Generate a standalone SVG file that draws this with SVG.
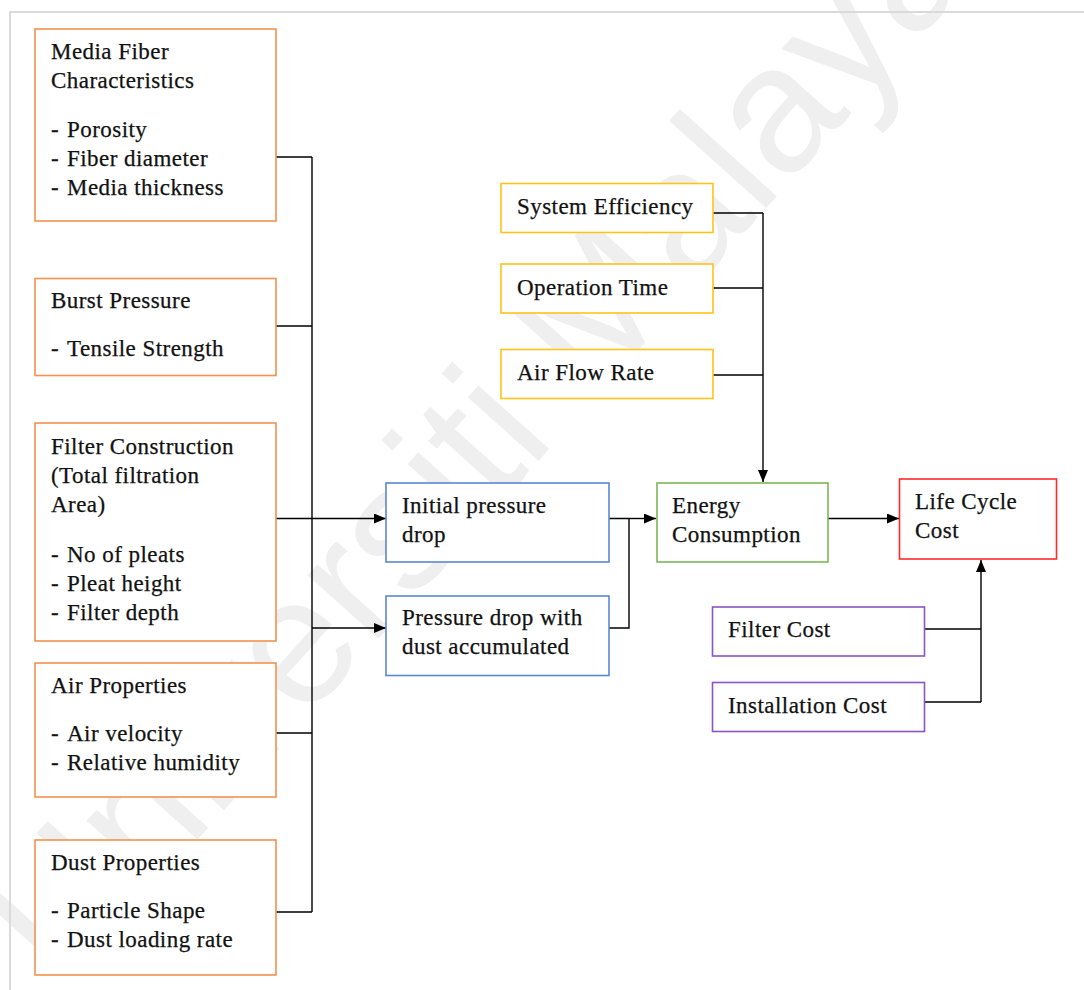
<svg xmlns="http://www.w3.org/2000/svg" width="1084" height="990" viewBox="0 0 1084 990">
<defs>
<style>
text.t{font-family:'Liberation Serif','Times New Roman',serif;font-size:23px;fill:#111;stroke:#111;stroke-width:0.25px;letter-spacing:0.45px}
.box{fill:#fff;stroke-width:1.6}
.o{stroke:#F4924E}
.y{stroke:#FFC21A}
.b{stroke:#5A86D4}
.g{stroke:#7DB755}
.r{stroke:#FF2A2A}
.p{stroke:#8A55C2}
.c{fill:none;stroke:#000;stroke-width:1.4}
text.wm{font-family:'Liberation Sans','DejaVu Sans',sans-serif;font-size:180px;fill:#efefef}
</style>
<marker id="ah" viewBox="0 0 12 10" markerWidth="12" markerHeight="10" refX="12" refY="5" orient="auto" markerUnits="userSpaceOnUse">
<path d="M0,0 L12,5 L0,10 z" fill="#000"/>
</marker>
</defs>
<rect width="1084" height="990" fill="#fff"/>
<text class="wm" transform="translate(62,990) rotate(-48)">Universiti Malaya</text>
<path d="M10,990 V12 H1084" fill="none" stroke="#dadada" stroke-width="2"/>

<g id="connectors">
<path class="c" d="M276,157 H312 M276,326 H312 M276,518.5 H312 M276,733 H312 M276,912 H312 M312,157 V912"/>
<path class="c" d="M312,518.5 H386" marker-end="url(#ah)"/>
<path class="c" d="M312,628 H386" marker-end="url(#ah)"/>
<path class="c" d="M609,518.5 H629 M609,628 H629 V518.5"/>
<path class="c" d="M629,518.5 H656" marker-end="url(#ah)"/>
<path class="c" d="M713,213 H763 M713,288 H763 M713,375 H763"/>
<path class="c" d="M763,213 V482" marker-end="url(#ah)"/>
<path class="c" d="M828,518.5 H899" marker-end="url(#ah)"/>
<path class="c" d="M924,629 H981 M924,702 H981"/>
<path class="c" d="M981,702 V560" marker-end="url(#ah)"/>
</g>

<g id="media-fiber">
<rect class="box o" x="35" y="29" width="241" height="192"/>
<text class="t"><tspan x="51" y="59">Media Fiber</tspan><tspan x="51" y="88">Characteristics</tspan></text>
<text class="t" y="137"><tspan x="51">-</tspan><tspan x="67">Porosity</tspan></text>
<text class="t" y="166"><tspan x="51">-</tspan><tspan x="67">Fiber diameter</tspan></text>
<text class="t" y="195"><tspan x="51">-</tspan><tspan x="67">Media thickness</tspan></text>
</g>

<g id="burst-pressure">
<rect class="box o" x="35" y="278.5" width="241" height="97"/>
<text class="t" x="51" y="308">Burst Pressure</text>
<text class="t" y="356"><tspan x="51">-</tspan><tspan x="67">Tensile Strength</tspan></text>
</g>

<g id="filter-construction">
<rect class="box o" x="35" y="423" width="241" height="218"/>
<text class="t"><tspan x="51" y="454">Filter Construction</tspan><tspan x="51" y="483">(Total filtration</tspan><tspan x="51" y="512">Area)</tspan></text>
<text class="t" y="562"><tspan x="51">-</tspan><tspan x="67">No of pleats</tspan></text>
<text class="t" y="591"><tspan x="51">-</tspan><tspan x="67">Pleat height</tspan></text>
<text class="t" y="620"><tspan x="51">-</tspan><tspan x="67">Filter depth</tspan></text>
</g>

<g id="air-properties">
<rect class="box o" x="35" y="663" width="241" height="134"/>
<text class="t" x="51" y="693">Air Properties</text>
<text class="t" y="741"><tspan x="51">-</tspan><tspan x="67">Air velocity</tspan></text>
<text class="t" y="770"><tspan x="51">-</tspan><tspan x="67">Relative humidity</tspan></text>
</g>

<g id="dust-properties">
<rect class="box o" x="35" y="840" width="241" height="135"/>
<text class="t" x="51" y="870">Dust Properties</text>
<text class="t" y="918"><tspan x="51">-</tspan><tspan x="67">Particle Shape</tspan></text>
<text class="t" y="947"><tspan x="51">-</tspan><tspan x="67">Dust loading rate</tspan></text>
</g>

<g id="system-efficiency">
<rect class="box y" x="501" y="183.5" width="212" height="49"/>
<text class="t" x="517" y="214">System Efficiency</text>
</g>
<g id="operation-time">
<rect class="box y" x="501" y="264" width="212" height="49"/>
<text class="t" x="517" y="295">Operation Time</text>
</g>
<g id="air-flow-rate">
<rect class="box y" x="501" y="349.5" width="212" height="49"/>
<text class="t" x="517" y="380">Air Flow Rate</text>
</g>

<g id="initial-pressure-drop">
<rect class="box b" x="386" y="483" width="223" height="79"/>
<text class="t"><tspan x="402" y="513">Initial pressure</tspan><tspan x="402" y="542">drop</tspan></text>
</g>
<g id="pressure-drop-dust">
<rect class="box b" x="386" y="596" width="223" height="79.5"/>
<text class="t"><tspan x="402" y="625">Pressure drop with</tspan><tspan x="402" y="654">dust accumulated</tspan></text>
</g>

<g id="energy-consumption">
<rect class="box g" x="657" y="483" width="171" height="79"/>
<text class="t"><tspan x="672" y="513">Energy</tspan><tspan x="672" y="542">Consumption</tspan></text>
</g>

<g id="life-cycle-cost">
<rect class="box r" x="899.5" y="479" width="157" height="80"/>
<text class="t"><tspan x="915" y="509">Life Cycle</tspan><tspan x="915" y="538">Cost</tspan></text>
</g>

<g id="filter-cost">
<rect class="box p" x="712.5" y="607" width="212" height="49"/>
<text class="t" x="728" y="637">Filter Cost</text>
</g>
<g id="installation-cost">
<rect class="box p" x="712.5" y="682.5" width="212" height="49"/>
<text class="t" x="728" y="713">Installation Cost</text>
</g>
</svg>
